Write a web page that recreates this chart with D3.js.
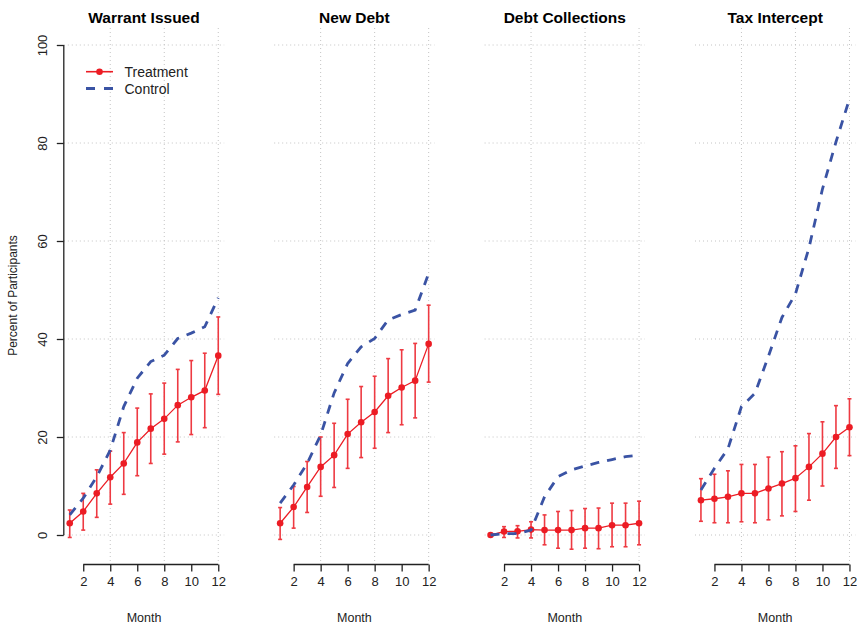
<!DOCTYPE html>
<html>
<head>
<meta charset="utf-8">
<script src="https://cdn.jsdelivr.net/npm/d3@7/dist/d3.min.js"></script>
<style>
  html, body { margin: 0; padding: 0; background: #ffffff; }
  svg { display: block; font-family: "Liberation Sans", Arial, Helvetica, sans-serif; }
</style>
</head>
<body>
<svg id="chart" width="857" height="625"></svg>
<script>
// Months on the horizontal axis
const months = [1, 2, 3, 4, 5, 6, 7, 8, 9, 10, 11, 12];
const xTicks = [2, 4, 6, 8, 10, 12];
const xGrid = [4, 8, 12];
const yTicks = [0, 20, 40, 60, 80, 100];

const panelTitles = ["Warrant Issued", "New Debt", "Debt Collections", "Tax Intercept"];

// Treatment group: estimate with lower / upper interval bounds (percent)
const warrantTreat = [2.4, 4.8, 8.5, 11.8, 14.6, 18.9, 21.7, 23.7, 26.5, 28.1, 29.5, 36.6];
const warrantLo    = [-0.5, 1.0, 3.6, 6.3, 8.3, 12.1, 14.6, 16.5, 19.0, 20.5, 21.9, 28.7];
const warrantHi    = [5.1, 8.5, 13.3, 17.1, 20.9, 25.9, 28.8, 31.0, 33.8, 35.6, 37.1, 44.5];
const warrantCtrl  = [4.1, 7.5, 11.9, 17.3, 26.2, 32.0, 35.4, 36.7, 40.1, 41.2, 42.5, 48.4];

const debtTreat = [2.4, 5.7, 9.8, 13.9, 16.3, 20.6, 23.0, 25.1, 28.4, 30.1, 31.5, 39.0];
const debtLo    = [-0.9, 1.4, 4.6, 7.9, 9.7, 13.6, 15.8, 17.7, 20.9, 22.5, 23.9, 31.2];
const debtHi    = [5.6, 9.9, 15.0, 20.0, 22.8, 27.7, 30.3, 32.4, 36.0, 37.8, 39.1, 46.9];
const debtCtrl  = [6.5, 10.2, 14.6, 20.4, 29.0, 35.0, 38.4, 40.1, 43.9, 45.0, 45.9, 53.4];

const collectTreat = [0.0, 0.7, 0.75, 1.1, 1.0, 1.0, 1.0, 1.4, 1.4, 2.0, 2.0, 2.4];
const collectLo    = [0.0, -0.5, -0.6, -0.6, -2.0, -2.7, -2.9, -2.7, -2.8, -2.4, -2.4, -2.0];
const collectHi    = [0.0, 1.7, 1.9, 2.7, 4.1, 4.8, 5.0, 5.4, 5.5, 6.5, 6.5, 6.9];
const collectCtrl  = [0.0, 0.3, 0.3, 1.0, 7.8, 11.9, 13.3, 14.1, 14.8, 15.4, 16.0, 16.3];

const taxTreat = [7.1, 7.4, 7.8, 8.5, 8.5, 9.5, 10.5, 11.6, 13.9, 16.6, 20.0, 22.0];
const taxLo    = [2.8, 2.5, 2.5, 2.7, 2.5, 3.1, 3.9, 4.8, 7.1, 10.0, 13.6, 16.2];
const taxHi    = [11.5, 12.4, 13.1, 14.4, 14.4, 15.9, 17.0, 18.2, 20.7, 23.1, 26.4, 27.8];
const taxCtrl  = [9.2, 13.6, 17.6, 26.2, 28.9, 36.5, 44.4, 49.2, 58.6, 70.6, 80.2, 89.0];

const treatSeries = [warrantTreat, debtTreat, collectTreat, taxTreat];
const loSeries    = [warrantLo, debtLo, collectLo, taxLo];
const hiSeries    = [warrantHi, debtHi, collectHi, taxHi];
const ctrlSeries  = [warrantCtrl, debtCtrl, collectCtrl, taxCtrl];

const legendLabels = ["Treatment", "Control"];

// Styling
const RED = "#EC1C24";
const RED_BAR = "#EE3A42";
const BLUE = "#3A53A4";
const GRID = "#c4c4c4";

// Layout
const panelStep = 210.4;
const firstLeft = 63.8;
const plotW = 160.4;
const plotTop = 28;
const plotBottom = 563;
const axisY = 564.5;

const svg = d3.select("#chart");

const y = d3.scaleLinear().domain([0, 100]).range([535, 45]);

panelTitles.forEach((title, i) => {
  const left = firstLeft + panelStep * i;
  const x = d3.scaleLinear().domain([0.56, 12.44]).range([left, left + plotW]);
  const g = svg.append("g");

  // dotted grid
  g.selectAll("line.hgrid").data(yTicks).join("line")
    .attr("x1", left).attr("x2", left + plotW)
    .attr("y1", d => y(d)).attr("y2", d => y(d))
    .attr("stroke", GRID).attr("stroke-width", 1).attr("stroke-dasharray", "1,3");
  g.selectAll("line.vgrid").data(xGrid).join("line")
    .attr("x1", d => x(d)).attr("x2", d => x(d))
    .attr("y1", plotTop).attr("y2", plotBottom)
    .attr("stroke", GRID).attr("stroke-width", 1).attr("stroke-dasharray", "1,3");

  // title
  g.append("text")
    .attr("x", left + plotW / 2).attr("y", 23)
    .attr("text-anchor", "middle")
    .attr("font-size", 15.5).attr("font-weight", "bold").attr("fill", "#000")
    .text(title);

  // x axis
  const xAxis = d3.axisBottom(x).tickValues(xTicks).tickSize(7).tickPadding(5).tickFormat(d3.format("d"));
  const xa = g.append("g").attr("transform", `translate(0,${axisY})`).call(xAxis);
  xa.select(".domain").attr("d", `M${x(2)},0H${x(12)}`).attr("stroke", "#222").attr("stroke-width", 1.3);
  xa.selectAll(".tick line").attr("stroke", "#222").attr("stroke-width", 1.3);
  xa.selectAll(".tick text").attr("font-size", 13).attr("fill", "#222")
    .attr("font-family", "Liberation Sans, Arial, sans-serif");

  g.append("text")
    .attr("x", left + plotW / 2).attr("y", 622)
    .attr("text-anchor", "middle").attr("font-size", 12.5).attr("fill", "#222")
    .text("Month");

  // y axis on the first panel only
  if (i === 0) {
    const yAxis = d3.axisLeft(y).tickValues(yTicks).tickSize(7).tickFormat(d3.format("d"));
    const ya = g.append("g").attr("transform", `translate(${left},0)`).call(yAxis);
    ya.select(".domain").attr("d", `M0,${y(0)}V${y(100)}`).attr("stroke", "#222").attr("stroke-width", 1.3);
    ya.selectAll(".tick line").attr("stroke", "#222").attr("stroke-width", 1.3);
    ya.selectAll(".tick text")
      .attr("x", null).attr("dy", null)
      .attr("transform", "translate(-17,0) rotate(-90)")
      .attr("text-anchor", "middle")
      .attr("font-size", 13).attr("fill", "#222")
      .attr("font-family", "Liberation Sans, Arial, sans-serif");

    svg.append("text")
      .attr("transform", `translate(17,${(plotTop + plotBottom) / 2}) rotate(-90)`)
      .attr("text-anchor", "middle").attr("font-size", 12).attr("fill", "#222")
      .text("Percent of Participants");
  }

  const treat = treatSeries[i], lo = loSeries[i], hi = hiSeries[i], ctrl = ctrlSeries[i];

  // interval bars with small caps
  const bars = g.append("g").attr("stroke", RED_BAR).attr("stroke-width", 1.6);
  months.forEach((m, k) => {
    if (hi[k] === lo[k]) return;
    bars.append("line").attr("x1", x(m)).attr("x2", x(m)).attr("y1", y(lo[k])).attr("y2", y(hi[k]));
    bars.append("line").attr("x1", x(m) - 2).attr("x2", x(m) + 2).attr("y1", y(lo[k])).attr("y2", y(lo[k]));
    bars.append("line").attr("x1", x(m) - 2).attr("x2", x(m) + 2).attr("y1", y(hi[k])).attr("y2", y(hi[k]));
  });

  // treatment line and points
  const line = d3.line().x((d, k) => x(months[k])).y(d => y(d));
  g.append("path").datum(treat).attr("d", line)
    .attr("fill", "none").attr("stroke", RED).attr("stroke-width", 1.3);
  g.selectAll("circle.pt").data(treat).join("circle")
    .attr("cx", (d, k) => x(months[k])).attr("cy", d => y(d)).attr("r", 3.3)
    .attr("fill", RED);

  // control line (dashed)
  g.append("path").datum(ctrl).attr("d", line)
    .attr("fill", "none").attr("stroke", BLUE).attr("stroke-width", 2.8)
    .attr("stroke-dasharray", "9,8");
});

// legend in the first panel
const lg = svg.append("g");
lg.append("line").attr("x1", 86).attr("x2", 113).attr("y1", 71.7).attr("y2", 71.7)
  .attr("stroke", RED).attr("stroke-width", 1.6);
lg.append("circle").attr("cx", 99.5).attr("cy", 71.7).attr("r", 3.3).attr("fill", RED);
lg.append("line").attr("x1", 86).attr("x2", 113).attr("y1", 88.5).attr("y2", 88.5)
  .attr("stroke", BLUE).attr("stroke-width", 2.8).attr("stroke-dasharray", "9,9");
lg.selectAll("text").data(legendLabels).join("text")
  .attr("x", 124.5).attr("y", (d, k) => 76.8 + k * 16.8)
  .attr("font-size", 14).attr("fill", "#222")
  .text(d => d);
</script>
</body>
</html>
